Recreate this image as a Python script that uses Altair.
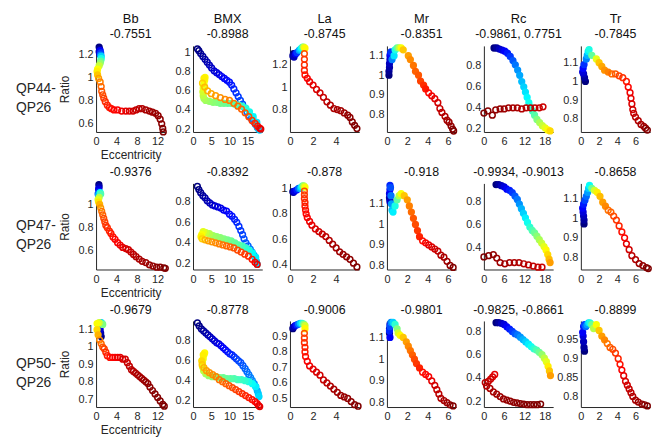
import altair as alt
import pandas as pd

COLS = ["Bb", "BMX", "La", "Mr", "Rc", "Tr"]
ROW_LABELS = [["QP44-", "QP26"], ["QP47-", "QP26"], ["QP50-", "QP26"]]
CORR = [
    ["-0.7551", "-0.8988", "-0.8745", "-0.8351", "-0.9861, 0.7751", "-0.7845"],
    ["-0.9376", "-0.8392", "-0.878", "-0.918", "-0.9934, -0.9013", "-0.8658"],
    ["-0.9679", "-0.8778", "-0.9006", "-0.9801", "-0.9825, -0.8661", "-0.8899"],
]

X_TICKS = [[0, 4, 8, 12], [0, 5, 10, 15], [0, 2, 4], [0, 2, 4, 6], [0, 6, 12, 18], [0, 2, 4, 6]]
X_DOM = [[0, 13.5], [0, 19], [0, 6], [0, 6.8], [0, 20.5], [0, 7.6]]

Y_TICKS = [
    [[0.6, 0.8, 1, 1.2], [0.2, 0.4, 0.6, 0.8, 1], [0.8, 1, 1.2], [0.8, 0.9, 1, 1.1], [0.2, 0.4, 0.6, 0.8], [0.8, 0.9, 1, 1.1]],
    [[0.6, 0.8, 1], [0.2, 0.4, 0.6, 0.8], [0.4, 0.6, 0.8, 1], [0.8, 0.9, 1, 1.1], [0.4, 0.6, 0.8], [0.8, 0.9, 1, 1.1]],
    [[0.7, 0.8, 0.9, 1, 1.1], [0.2, 0.4, 0.6, 0.8], [0.5, 0.6, 0.7, 0.8, 0.9], [0.8, 0.9, 1, 1.1], [0.2, 0.4, 0.6, 0.8], [0.8, 0.85, 0.9, 0.95]],
]
Y_DOM = [
    [[0.53, 1.27], [0.17, 1.07], [0.6, 1.37], [0.71, 1.15], [0.17, 0.99], [0.73, 1.19]],
    [[0.44, 1.18], [0.14, 0.98], [0.36, 1.04], [0.78, 1.2], [0.21, 0.96], [0.74, 1.175]],
    [[0.655, 1.15], [0.135, 1.0], [0.445, 1.0], [0.78, 1.176], [0.15, 0.89], [0.772, 1.0]],
]

# (eccentricity, ratio, colour position in jet 0..1)
BB_1 = [(0.6,1.26,0.0),(0.7,1.24,0.03),(0.6,1.22,0.06),(0.7,1.2,0.09),(0.8,1.23,0.12),(0.9,1.21,0.18),(0.9,1.19,0.25),
        (1.0,1.18,0.33),(1.0,1.16,0.4),(0.9,1.14,0.47),(0.8,1.12,0.52),(0.6,1.1,0.57),(0.3,1.07,0.62),(0.2,1.05,0.64),
        (0.3,1.02,0.68),(0.5,0.99,0.72),(0.8,0.96,0.75),(1.0,0.92,0.77),(1.1,0.88,0.79),(1.3,0.85,0.8),(1.5,0.82,0.81),
        (1.8,0.79,0.83),(2.2,0.76,0.84),(2.6,0.74,0.85),(3.0,0.73,0.86),(3.5,0.72,0.87),(4.2,0.72,0.88),(5.0,0.71,0.89),
        (5.8,0.71,0.9),(6.5,0.71,0.91),(7.2,0.71,0.92),(7.8,0.72,0.93),(8.4,0.73,0.94),(9.0,0.73,0.95),(9.7,0.72,0.96),
        (10.4,0.71,0.965),(11.0,0.7,0.97),(11.6,0.69,0.975),(12.1,0.67,0.98),(12.5,0.64,0.985),(12.8,0.6,0.99),
        (13.0,0.56,0.995),(13.1,0.53,1.0)]
BMX_1 = [(1.2,1.04,0.0),(1.6,1.02,0.01),(2.1,0.99,0.02),(2.7,0.96,0.03),(3.3,0.93,0.04),(3.9,0.9,0.05),(4.5,0.87,0.06),
         (5.1,0.84,0.07),(5.8,0.81,0.08),(6.5,0.79,0.09),(7.2,0.77,0.1),(7.9,0.75,0.11),(8.6,0.73,0.12),(9.3,0.71,0.13),
         (10.0,0.69,0.14),(10.6,0.66,0.15),(11.2,0.62,0.16),(11.8,0.58,0.17),(12.4,0.54,0.18),(13.0,0.5,0.19),
         (13.6,0.46,0.2),(14.2,0.42,0.21),(14.8,0.38,0.22),(15.4,0.34,0.23),(16.0,0.31,0.24),(16.6,0.28,0.25),
         (17.1,0.25,0.27),(17.6,0.22,0.29),(18.0,0.2,0.31),(18.3,0.19,0.33),
         (17.5,0.27,0.35),(16.5,0.33,0.37),(15.5,0.38,0.39),(14.5,0.42,0.41),(13.5,0.44,0.42),(12.5,0.45,0.43),
         (11.5,0.46,0.45),(10.5,0.47,0.46),(9.5,0.47,0.47),(8.5,0.47,0.48),(7.5,0.47,0.49),(6.5,0.48,0.5),
         (5.5,0.48,0.51),(4.5,0.49,0.52),(3.5,0.5,0.53),(3.0,0.52,0.54),(2.8,0.55,0.56),(2.7,0.59,0.58),
         (2.8,0.63,0.6),(3.0,0.67,0.61),(3.2,0.71,0.62),(3.3,0.74,0.63),(3.0,0.73,0.64),
         (2.6,0.68,0.67),(3.2,0.64,0.69),(4.0,0.6,0.7),(5.0,0.57,0.71),(6.2,0.55,0.72),(7.5,0.53,0.73),(8.8,0.51,0.74),
         (10.0,0.5,0.75),(11.2,0.47,0.76),(12.3,0.44,0.77),(13.3,0.41,0.78),(14.3,0.37,0.79),(15.3,0.33,0.8),
         (16.2,0.29,0.82),(17.0,0.26,0.84),(17.7,0.23,0.86),(18.3,0.21,0.88),(18.6,0.2,0.9)]
LA_1 = [(0.3,1.3,0.0),(0.25,1.28,0.03),(0.35,1.27,0.06),(0.5,1.3,0.12),(0.6,1.31,0.18),(0.8,1.33,0.28),(0.9,1.34,0.33),
        (1.0,1.35,0.38),(1.1,1.36,0.45),(1.2,1.36,0.58),(1.3,1.35,0.63),(1.25,1.3,0.8),(1.25,1.25,0.82),(1.25,1.2,0.83),
        (1.25,1.15,0.84),(1.3,1.11,0.86),(1.5,1.08,0.88),(1.7,1.05,0.89),(2.0,1.02,0.9),(2.3,0.98,0.91),(2.6,0.95,0.92),
        (2.9,0.91,0.93),(3.2,0.87,0.94),(3.5,0.84,0.95),(3.8,0.81,0.955),(4.1,0.8,0.96),(4.4,0.79,0.965),
        (4.7,0.77,0.97),(5.0,0.75,0.98),(5.2,0.73,0.985),(5.4,0.69,0.99),(5.6,0.66,0.995),(5.8,0.63,1.0)]
MR_1 = [(0.2,1.0,0.0),(0.2,1.02,0.02),(0.25,1.04,0.04),(0.25,1.06,0.06),(0.3,1.08,0.08),(0.3,1.1,0.1),(0.35,1.11,0.14),
        (0.4,1.12,0.18),(0.5,1.08,0.25),(0.7,1.1,0.35),(0.8,1.13,0.4),(1.0,1.14,0.47),(1.2,1.14,0.55),(1.4,1.14,0.62),
        (1.6,1.13,0.68),(2.1,1.1,0.72),(2.3,1.08,0.74),(2.6,1.05,0.76),(2.8,1.02,0.78),(3.1,1.0,0.79),(3.3,0.97,0.81),
        (3.6,0.95,0.83),(3.8,0.93,0.85),(4.1,0.91,0.87),(4.4,0.895,0.89),(4.7,0.88,0.9),(5.0,0.86,0.92),(5.2,0.83,0.93),
        (5.4,0.81,0.94),(5.7,0.79,0.95),(5.9,0.77,0.96),(6.1,0.76,0.97),(6.3,0.74,0.98),(6.45,0.725,0.99),(6.55,0.715,1.0)]
RC_1 = [(3.0,0.97,0.0),(3.8,0.97,0.03),(4.6,0.96,0.06),(5.4,0.95,0.09),(6.2,0.94,0.12),(7.0,0.92,0.15),(7.8,0.89,0.18),
        (8.6,0.85,0.21),(9.3,0.81,0.24),(10.0,0.76,0.27),(10.6,0.71,0.29),(11.2,0.65,0.31),(11.8,0.6,0.33),
        (12.3,0.55,0.35),(12.8,0.5,0.37),(13.3,0.45,0.39),(13.8,0.41,0.41),(14.4,0.37,0.43),(15.0,0.33,0.46),
        (15.7,0.29,0.5),(16.5,0.26,0.54),(17.3,0.23,0.57),(18.1,0.21,0.6),(18.9,0.19,0.63),(19.6,0.18,0.66),
        (0.0,0.35,1.0),(1.2,0.37,0.99),(2.5,0.33,0.985),(3.5,0.38,0.98),(4.8,0.39,0.975),(6.0,0.39,0.97),
        (7.3,0.4,0.965),(8.6,0.4,0.96),(9.9,0.4,0.955),(11.2,0.39,0.95),(12.5,0.4,0.945),(13.8,0.4,0.94),
        (15.1,0.4,0.935),(16.4,0.4,0.93),(17.5,0.41,0.925)]
TR_1 = [(0.5,1.0,0.0),(0.4,1.02,0.03),(0.3,1.04,0.06),(0.2,1.05,0.09),(0.25,1.07,0.13),(0.35,1.09,0.17),(0.6,1.12,0.25),
        (0.7,1.14,0.3),(0.8,1.16,0.36),(0.9,1.17,0.4),(1.2,1.14,0.47),(1.7,1.12,0.6),(2.0,1.1,0.68),(2.3,1.08,0.71),
        (2.6,1.06,0.73),(3.0,1.05,0.75),(3.4,1.04,0.77),(3.8,1.04,0.79),(4.2,1.03,0.81),(4.6,1.02,0.83),(5.0,1.0,0.85),
        (5.2,0.97,0.87),(5.4,0.94,0.89),(5.5,0.91,0.9),(5.6,0.88,0.91),(5.7,0.85,0.92),(5.8,0.83,0.93),(6.0,0.81,0.94),
        (6.3,0.79,0.95),(6.6,0.77,0.96),(6.9,0.76,0.97),(7.1,0.75,0.98),(7.3,0.74,1.0)]

BB_2 = [(0.55,1.17,0.0),(0.6,1.15,0.05),(0.5,1.13,0.1),(0.6,1.11,0.15),(0.4,1.09,0.22),(0.5,1.08,0.3),(0.8,1.1,0.38),
        (0.9,1.09,0.45),(0.6,1.06,0.55),(0.4,1.04,0.6),(0.5,1.02,0.65),(0.7,1.0,0.7),(0.9,0.97,0.73),(1.1,0.94,0.76),
        (1.3,0.91,0.78),(1.5,0.88,0.8),(1.7,0.85,0.81),(1.9,0.82,0.82),(2.2,0.8,0.83),(2.6,0.77,0.84),(2.9,0.75,0.85),
        (3.3,0.72,0.86),(3.7,0.7,0.87),(4.2,0.67,0.88),(4.7,0.65,0.89),(5.2,0.63,0.9),(5.8,0.62,0.91),(6.3,0.61,0.92),
        (6.8,0.59,0.93),(7.3,0.57,0.94),(7.8,0.55,0.95),(8.4,0.53,0.955),(9.0,0.51,0.96),(9.7,0.5,0.97),
        (10.4,0.48,0.975),(11.1,0.47,0.98),(11.8,0.46,0.985),(12.5,0.46,0.99),(13.2,0.455,0.995),(13.5,0.45,1.0)]
BMX_2 = [(1.2,0.95,0.0),(1.6,0.92,0.01),(2.1,0.89,0.02),(2.7,0.86,0.03),(3.3,0.84,0.04),(3.9,0.81,0.05),(4.6,0.79,0.06),
         (5.3,0.77,0.07),(6.0,0.76,0.08),(6.8,0.75,0.09),(7.6,0.74,0.1),(8.4,0.72,0.11),(9.2,0.71,0.12),(10.0,0.68,0.13),
         (10.7,0.66,0.14),(11.4,0.63,0.15),(12.0,0.6,0.16),(12.6,0.56,0.17),(13.1,0.52,0.18),(13.6,0.48,0.19),
         (14.0,0.44,0.2),(14.5,0.4,0.21),(15.1,0.37,0.22),(15.7,0.34,0.24),(16.2,0.31,0.26),(16.7,0.28,0.28),
         (17.1,0.25,0.3),(17.4,0.22,0.32),(17.6,0.19,0.34),
         (17.2,0.26,0.36),(16.3,0.3,0.38),(15.4,0.33,0.4),(14.5,0.35,0.42),(13.5,0.37,0.44),(12.5,0.38,0.46),
         (11.5,0.4,0.47),(10.5,0.42,0.48),(9.5,0.43,0.49),(8.5,0.44,0.5),(7.5,0.45,0.51),(6.5,0.46,0.52),
         (5.5,0.47,0.53),(4.5,0.49,0.55),(3.5,0.5,0.57),(2.8,0.51,0.6),(2.4,0.48,0.62),(2.2,0.46,0.64),
         (2.5,0.44,0.67),(3.3,0.43,0.7),(4.2,0.42,0.72),(5.2,0.41,0.73),(6.2,0.4,0.74),(7.2,0.39,0.75),(8.2,0.38,0.76),
         (9.2,0.37,0.77),(10.2,0.36,0.78),(11.2,0.35,0.79),(12.2,0.33,0.8),(13.2,0.31,0.81),(14.2,0.29,0.82),
         (15.2,0.27,0.83),(16.2,0.24,0.85),(17.0,0.21,0.87),(17.6,0.19,0.89)]
LA_2 = [(0.25,0.975,0.0),(0.3,0.97,0.05),(0.4,0.98,0.1),(0.6,0.99,0.15),(0.75,1.0,0.22),(0.9,1.0,0.3),(1.0,1.01,0.36),
        (1.1,1.02,0.45),(1.2,1.02,0.55),(1.3,1.01,0.62),(1.25,0.98,0.8),(1.25,0.95,0.82),(1.25,0.92,0.83),
        (1.3,0.89,0.84),(1.3,0.86,0.85),(1.35,0.83,0.86),(1.4,0.8,0.87),(1.5,0.77,0.88),(1.7,0.74,0.89),
        (1.9,0.71,0.9),(2.2,0.68,0.91),(2.5,0.66,0.92),(2.8,0.64,0.93),(3.1,0.62,0.94),(3.4,0.59,0.95),
        (3.7,0.56,0.96),(4.0,0.53,0.965),(4.3,0.5,0.97),(4.6,0.48,0.975),(4.9,0.46,0.98),(5.2,0.44,0.985),
        (5.5,0.41,0.99),(5.8,0.38,1.0)]
MR_2 = [(0.3,1.12,0.0),(0.25,1.13,0.04),(0.3,1.11,0.07),(0.25,1.15,0.1),(0.3,1.17,0.13),(0.3,1.19,0.16),(0.35,1.18,0.2),
        (0.4,1.14,0.24),(0.45,1.1,0.28),(0.5,1.07,0.32),(0.6,1.06,0.36),(0.8,1.09,0.4),(1.0,1.12,0.47),(1.2,1.14,0.55),
        (1.4,1.15,0.62),(1.7,1.14,0.68),(2.0,1.12,0.72),(2.2,1.09,0.75),(2.4,1.06,0.77),(2.6,1.03,0.79),(2.8,1.0,0.8),
        (3.0,0.97,0.82),(3.2,0.94,0.84),(3.5,0.92,0.86),(3.8,0.91,0.88),(4.1,0.9,0.9),(4.4,0.89,0.91),(4.7,0.88,0.92),
        (5.0,0.87,0.93),(5.3,0.85,0.95),(5.6,0.84,0.96),(5.9,0.82,0.97),(6.2,0.8,0.98),(6.5,0.79,1.0)]
RC_2 = [(3.6,0.95,0.0),(4.4,0.95,0.03),(5.2,0.94,0.06),(6.0,0.93,0.09),(6.8,0.91,0.12),(7.6,0.9,0.15),(8.4,0.88,0.18),
        (9.2,0.85,0.21),(9.9,0.82,0.24),(10.5,0.78,0.27),(11.1,0.74,0.3),(11.7,0.7,0.33),(12.3,0.66,0.36),
        (12.9,0.62,0.39),(13.6,0.58,0.42),(14.3,0.55,0.45),(15.0,0.53,0.48),(15.7,0.5,0.51),(16.4,0.47,0.54),
        (17.1,0.44,0.57),(17.8,0.41,0.6),(18.4,0.38,0.63),(18.9,0.34,0.66),(19.3,0.3,0.69),(19.6,0.27,0.72),
        (0.0,0.32,1.0),(1.4,0.33,0.99),(2.8,0.34,0.98),(3.8,0.31,0.975),(4.8,0.27,0.97),(6.2,0.26,0.965),
        (7.6,0.27,0.96),(9.0,0.27,0.955),(10.4,0.27,0.95),(11.8,0.26,0.945),(13.2,0.25,0.94),(14.6,0.24,0.935),
        (16.0,0.23,0.93),(17.2,0.23,0.925)]
TR_2 = [(0.35,0.97,0.0),(0.35,0.99,0.03),(0.3,1.01,0.06),(0.25,1.03,0.09),(0.2,1.05,0.12),(0.3,1.07,0.15),(0.45,1.09,0.19),
        (0.6,1.11,0.23),(0.75,1.13,0.28),(0.85,1.15,0.33),(0.95,1.165,0.38),(1.2,1.15,0.48),(1.5,1.14,0.58),
        (1.8,1.13,0.64),(2.1,1.11,0.69),(2.4,1.08,0.72),(2.7,1.06,0.74),(3.0,1.04,0.76),(3.3,1.03,0.78),(3.6,1.01,0.8),
        (3.9,0.99,0.82),(4.2,0.96,0.84),(4.5,0.93,0.86),(4.8,0.9,0.88),(5.0,0.87,0.9),(5.3,0.84,0.92),(5.6,0.81,0.94),
        (6.0,0.79,0.95),(6.4,0.77,0.97),(6.8,0.76,0.98),(7.2,0.75,0.99),(7.4,0.745,1.0)]

BB_3 = [(1.0,1.06,0.0),(0.9,1.08,0.04),(0.8,1.1,0.08),(0.7,1.12,0.12),(0.6,1.13,0.18),(0.8,1.135,0.25),(1.0,1.14,0.33),
        (1.2,1.135,0.42),(1.3,1.13,0.5),(0.6,1.14,0.58),(0.2,1.135,0.62),(0.2,1.1,0.66),(0.4,1.07,0.7),(0.7,1.04,0.74),
        (1.0,1.02,0.77),(1.3,1.0,0.79),(1.6,0.99,0.81),(1.9,0.97,0.83),(2.2,0.95,0.85),(2.7,0.94,0.86),(3.2,0.94,0.87),
        (3.7,0.94,0.88),(4.2,0.94,0.89),(4.7,0.94,0.9),(5.2,0.93,0.91),(5.7,0.93,0.92),(6.1,0.91,0.93),(6.5,0.89,0.935),
        (6.9,0.87,0.94),(7.3,0.86,0.945),(7.7,0.85,0.95),(8.1,0.84,0.955),(8.5,0.83,0.96),(8.9,0.82,0.965),
        (9.3,0.81,0.97),(9.7,0.8,0.975),(10.1,0.79,0.98),(10.5,0.77,0.985),(11.0,0.75,0.99),(11.5,0.73,0.992),
        (12.0,0.71,0.994),(12.5,0.69,0.996),(13.0,0.67,0.998),(13.3,0.66,1.0)]
BMX_3 = [(1.2,0.98,0.0),(1.7,0.95,0.01),(2.3,0.92,0.02),(2.9,0.9,0.03),(3.5,0.88,0.04),(4.1,0.86,0.05),(4.7,0.84,0.06),
         (5.3,0.82,0.07),(5.9,0.8,0.08),(6.5,0.78,0.09),(7.1,0.77,0.1),(7.7,0.75,0.11),(8.3,0.73,0.12),(8.9,0.71,0.13),
         (9.5,0.69,0.14),(10.1,0.67,0.15),(10.7,0.66,0.16),(11.3,0.64,0.17),(11.9,0.62,0.18),(12.5,0.6,0.19),
         (13.1,0.58,0.2),(13.7,0.55,0.21),(14.3,0.52,0.22),(14.8,0.49,0.23),(15.3,0.46,0.24),(15.8,0.43,0.25),
         (16.3,0.4,0.26),(16.8,0.37,0.27),(17.2,0.34,0.28),(17.6,0.3,0.3),(17.9,0.27,0.32),(18.1,0.24,0.34),
         (17.2,0.34,0.36),(16.3,0.37,0.38),(15.3,0.39,0.4),(14.3,0.4,0.42),(13.3,0.41,0.43),(12.3,0.41,0.44),
         (11.3,0.42,0.45),(10.3,0.42,0.46),(9.3,0.42,0.47),(8.3,0.43,0.48),(7.3,0.43,0.49),(6.3,0.44,0.5),
         (5.3,0.44,0.51),(4.3,0.45,0.52),(3.5,0.47,0.54),(2.9,0.5,0.56),(2.6,0.54,0.58),(2.6,0.58,0.6),
         (2.8,0.62,0.61),(3.0,0.66,0.62),(3.2,0.68,0.63),(2.8,0.66,0.64),
         (2.4,0.6,0.66),(2.5,0.56,0.68),(3.0,0.53,0.7),(3.7,0.5,0.72),(4.5,0.48,0.73),(5.4,0.46,0.74),(6.3,0.44,0.75),
         (7.2,0.41,0.76),(8.1,0.39,0.77),(9.0,0.37,0.78),(9.9,0.35,0.79),(10.8,0.33,0.8),(11.7,0.31,0.81),
         (12.6,0.29,0.82),(13.5,0.27,0.83),(14.4,0.25,0.84),(15.3,0.23,0.85),(16.2,0.21,0.86),(17.0,0.19,0.87),
         (17.6,0.17,0.88),(18.0,0.15,0.89),(18.3,0.14,0.9)]
LA_3 = [(0.25,0.95,0.0),(0.3,0.96,0.05),(0.45,0.97,0.1),(0.6,0.975,0.16),(0.75,0.98,0.24),(0.9,0.985,0.32),
        (1.05,0.985,0.4),(1.2,0.98,0.5),(1.3,0.97,0.58),(1.3,0.95,0.63),(1.25,0.92,0.8),(1.25,0.89,0.82),
        (1.25,0.86,0.83),(1.3,0.83,0.84),(1.3,0.8,0.85),(1.35,0.77,0.86),(1.5,0.74,0.88),(1.7,0.71,0.89),
        (2.0,0.69,0.9),(2.3,0.67,0.91),(2.6,0.65,0.92),(2.9,0.62,0.93),(3.2,0.6,0.94),(3.5,0.58,0.95),
        (3.8,0.56,0.96),(4.1,0.54,0.965),(4.4,0.52,0.97),(4.7,0.51,0.975),(5.0,0.5,0.98),(5.3,0.48,0.985),
        (5.6,0.46,0.99),(5.9,0.45,1.0)]
MR_3 = [(0.25,1.12,0.0),(0.25,1.14,0.04),(0.3,1.16,0.08),(0.3,1.1,0.12),(0.25,1.13,0.16),(0.3,1.15,0.2),(0.4,1.17,0.26),
        (0.6,1.17,0.33),(0.8,1.16,0.42),(1.0,1.14,0.5),(1.1,1.12,0.58),(1.3,1.11,0.63),(1.6,1.1,0.68),(1.9,1.08,0.72),
        (2.1,1.06,0.74),(2.3,1.04,0.76),(2.5,1.02,0.78),(2.7,1.0,0.8),(2.9,0.98,0.82),(3.2,0.96,0.84),(3.5,0.94,0.86),
        (3.8,0.93,0.87),(4.1,0.92,0.88),(4.4,0.9,0.9),(4.7,0.88,0.92),(4.9,0.86,0.93),(5.1,0.84,0.94),(5.3,0.82,0.95),
        (5.6,0.81,0.96),(5.9,0.8,0.97),(6.2,0.79,0.98),(6.5,0.785,1.0)]
RC_3 = [(3.6,0.875,0.0),(4.4,0.875,0.03),(5.2,0.87,0.06),(6.0,0.86,0.09),(6.8,0.84,0.12),(7.6,0.82,0.15),(8.4,0.8,0.18),
        (9.2,0.78,0.21),(10.0,0.77,0.24),(10.8,0.75,0.27),(11.6,0.73,0.3),(12.4,0.71,0.33),(13.2,0.69,0.36),
        (14.0,0.67,0.39),(14.8,0.65,0.42),(15.6,0.64,0.45),(16.4,0.62,0.48),(17.2,0.6,0.52),(17.9,0.57,0.56),
        (18.5,0.54,0.6),(19.0,0.5,0.64),(19.4,0.46,0.68),(19.7,0.42,0.72),
        (3.2,0.43,0.9),(2.6,0.41,0.91),(2.0,0.39,0.92),(1.3,0.37,0.93),(0.4,0.36,0.94),(0.8,0.33,0.95),
        (1.8,0.31,0.955),(2.8,0.28,0.96),(3.8,0.26,0.965),(4.8,0.24,0.97),(5.8,0.22,0.975),(6.8,0.21,0.978),
        (7.8,0.2,0.98),(8.8,0.19,0.983),(9.8,0.185,0.986),(10.8,0.18,0.989),(11.8,0.175,0.992),(12.8,0.17,0.994),
        (13.8,0.17,0.996),(14.8,0.17,0.997),(15.8,0.17,0.998),(16.8,0.175,1.0)]
TR_3 = [(0.4,0.92,0.0),(0.35,0.93,0.03),(0.3,0.945,0.06),(0.25,0.96,0.09),(0.2,0.97,0.12),(0.3,0.985,0.15),(0.4,0.99,0.19),
        (0.55,0.985,0.23),(0.7,0.99,0.28),(0.85,0.995,0.34),(1.0,0.995,0.4),(1.2,0.99,0.48),(1.4,0.98,0.55),
        (1.7,0.99,0.62),(2.0,0.975,0.68),(2.3,0.96,0.72),(2.6,0.95,0.74),(2.9,0.94,0.76),(3.2,0.93,0.78),
        (3.5,0.925,0.8),(3.8,0.915,0.82),(4.1,0.9,0.84),(4.3,0.885,0.86),(4.5,0.87,0.88),(4.7,0.855,0.9),
        (4.9,0.84,0.91),(5.1,0.83,0.92),(5.3,0.82,0.93),(5.5,0.81,0.94),(5.7,0.8,0.95),(6.0,0.79,0.96),
        (6.3,0.785,0.97),(6.7,0.78,0.98),(7.0,0.778,0.99),(7.3,0.775,1.0)]

PANELS = [[BB_1, BMX_1, LA_1, MR_1, RC_1, TR_1],
          [BB_2, BMX_2, LA_2, MR_2, RC_2, TR_2],
          [BB_3, BMX_3, LA_3, MR_3, RC_3, TR_3]]

# colour positions drawn as solid (dense) markers
FILL = [[(0, 0.7), (0.3, 0.66), (0, 0.7), (0, 0.85), (0, 0.7), (0, 0.75)],
        [(0, 0.7), (0.3, 0.65), (0, 0.7), (0, 0.85), (0, 0.75), (0, 0.75)],
        [(0, 0.7), (0.3, 0.66), (0, 0.7), (0, 0.85), (0, 0.75), (0, 0.75)]]

W, H = 70, 87
FONT = "Liberation Sans"
INK = "#262626"
TXT = "#111111"
JET = alt.Scale(domain=[0, 0.125, 0.375, 0.625, 0.875, 1],
                range=["#00007f", "#0000ff", "#00ffff", "#ffff00", "#ff0000", "#7f0000"],
                type="linear", interpolate="rgb")
ONE = pd.DataFrame({"k": [0]})


def label(text, x, y, size, align="center", baseline="alphabetic", color=TXT, line_height=None):
    kw = dict(align=align, baseline=baseline, font=FONT, fontSize=size, color=color, text=text)
    if line_height is not None:
        kw["lineHeight"] = line_height
    return alt.Chart(ONE).mark_text(**kw).encode(x=alt.value(x), y=alt.value(y))


def panel(r, ci):
    df = pd.DataFrame(PANELS[r][ci], columns=["x", "y", "c"])
    lo, hi = FILL[r][ci]
    df["f"] = ((df["c"] >= lo) & (df["c"] <= hi)).astype(int)
    common = dict(ticks=False, grid=False, labelFontSize=11, labelFont=FONT, labelColor=INK,
                  domainColor=INK, labelFlush=False, labelOverlap=False,
                  labelExpr="format(datum.value, '.4~g')")
    xaxis = dict(values=X_TICKS[ci], labelPadding=4, **common)
    yaxis = dict(values=Y_TICKS[r][ci], labelPadding=3, **common)
    xs = alt.Scale(domain=X_DOM[ci], nice=False, zero=False)
    ys = alt.Scale(domain=Y_DOM[r][ci], nice=False, zero=False)
    if ci == 0:
        xaxis.update(titleFont=FONT, titleFontSize=12, titleFontWeight="normal", titleColor=INK,
                     titleX=W / 2, titleY=27, titleBaseline="alphabetic", titleAlign="center")
        yaxis.update(titleFont=FONT, titleFontSize=12, titleFontWeight="normal", titleColor=INK,
                     titleX=-28, titleY=H / 2, titleBaseline="alphabetic", titleAlign="center",
                     titleAngle=270)
        xenc = alt.X("x:Q", title="Eccentricity", scale=xs, axis=alt.Axis(**xaxis))
        yenc = alt.Y("y:Q", title="Ratio", scale=ys, axis=alt.Axis(**yaxis))
    else:
        xenc = alt.X("x:Q", title=None, scale=xs, axis=alt.Axis(**xaxis))
        yenc = alt.Y("y:Q", title=None, scale=ys, axis=alt.Axis(**yaxis))

    pts = alt.Chart(df).mark_point(shape="circle", filled=False, size=34, strokeWidth=1.5, opacity=1).encode(
        x=xenc, y=yenc,
        color=alt.Color("c:Q", scale=JET, legend=None),
        fill=alt.condition("datum.f == 1", alt.Fill("c:Q", scale=JET, legend=None), alt.value("transparent")),
        order=alt.Order("c:Q"),
    )
    layers = [pts, label(CORR[r][ci], W / 2, -7.5, 12.5)]
    if r == 0:
        layers.append(label(COLS[ci], W / 2, -23, 13))
    if ci == 0:
        layers.append(label(ROW_LABELS[r], -81, H / 2, 14, align="left", baseline="middle",
                            color=INK, line_height=19))
    return alt.layer(*layers).properties(width=W, height=H)


panels = [panel(r, ci) for r in range(3) for ci in range(6)]
chart = alt.concat(*panels, columns=6, spacing={"row": 52, "column": 28}, bounds="flush").properties(
    padding={"left": 8, "top": 3, "right": 5, "bottom": 0}
).configure_view(stroke=None).configure_axis(domainWidth=1)

chart.save("out.html", embed_options={"renderer": "svg", "actions": False})
